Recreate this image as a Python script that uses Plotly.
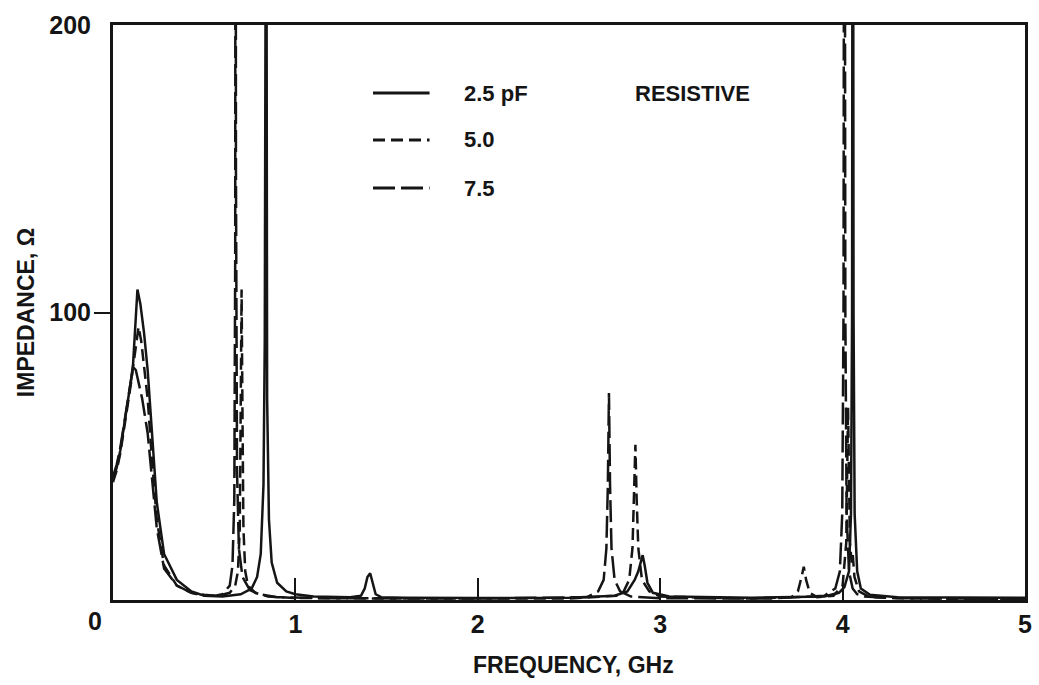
import plotly.graph_objects as go

# ---------------- data ----------------
series_names = ["2.5 pF", "5.0", "7.5"]

freq_2p5 = [0, 0.02, 0.04, 0.06, 0.08, 0.10, 0.11, 0.12, 0.134, 0.15,
            0.17, 0.19, 0.21, 0.24, 0.28, 0.35, 0.43, 0.50, 0.60, 0.70,
            0.76, 0.79, 0.81, 0.825, 0.832, 0.836, 0.838, 0.840, 0.845, 0.855,
            0.87, 0.90, 0.95, 1.00, 1.10, 1.30, 1.36, 1.38, 1.395, 1.41,
            1.425, 1.44, 1.47, 1.60, 2.00, 2.50, 2.75, 2.82, 2.86, 2.88,
            2.895, 2.904, 2.915, 2.93, 2.96, 3.05, 3.50, 3.90, 3.98, 4.01,
            4.035, 4.046, 4.052, 4.056, 4.06, 4.066, 4.08, 4.10, 4.15, 4.30,
            5.00]
imp_2p5 = [42, 46, 52, 60, 69, 77, 82, 92, 108, 103,
           93, 80, 60, 34, 16, 7, 3, 1.5, 1.2, 2,
           4, 8, 16, 40, 90, 200, 400, 200, 70, 28,
           13, 6, 3, 2, 1.2, 1.0, 1.5, 4, 8, 9.3,
           6, 2, 1, 0.8, 0.7, 0.8, 1.5, 3, 7, 10,
           13.5, 15.6, 12, 6, 2.5, 1.2, 0.8, 1.2, 2.5, 4.5,
           10, 30, 100, 400, 100, 30, 10, 4, 1.8, 1,
           0.8]

freq_5p0 = [0, 0.02, 0.04, 0.06, 0.08, 0.10, 0.11, 0.125, 0.14, 0.155,
            0.17, 0.19, 0.21, 0.24, 0.28, 0.35, 0.43, 0.50, 0.58, 0.64,
            0.67, 0.685, 0.695, 0.700, 0.705, 0.710, 0.715, 0.725, 0.74, 0.78,
            0.85, 1.00, 1.50, 2.50, 2.76, 2.80, 2.83, 2.848, 2.857, 2.864,
            2.871, 2.88, 2.90, 2.94, 3.00, 3.50, 3.72, 3.755, 3.775, 3.787,
            3.80, 3.82, 3.86, 3.95, 4.00, 4.02, 4.03, 4.04, 4.05, 4.056,
            4.065, 4.09, 4.15, 4.40, 5.00]
imp_5p0 = [41, 45, 51, 59, 68, 76, 81, 88, 95, 90,
           82, 70, 52, 28, 12, 5, 2.5, 1.5, 1.5, 2.5,
           5, 10, 25, 64, 108, 64, 25, 10, 5, 2.5,
           1.2, 0.7, 0.5, 0.5, 1.5, 3, 7, 18, 35, 54,
           35, 18, 7, 3, 1.2, 0.5, 1, 3, 8, 11.6,
           7, 2.5, 1, 1.5, 5, 20, 67, 20, 13, 15.6,
           8, 3, 1, 0.5, 0.4]

freq_7p5 = [0, 0.02, 0.04, 0.06, 0.08, 0.10, 0.11, 0.125, 0.14, 0.16,
            0.19, 0.21, 0.24, 0.28, 0.35, 0.43, 0.50, 0.56, 0.60, 0.64,
            0.655, 0.665, 0.670, 0.672, 0.674, 0.68, 0.69, 0.71, 0.75, 0.80,
            0.90, 1.20, 2.00, 2.60, 2.66, 2.69, 2.705, 2.713, 2.719, 2.725,
            2.733, 2.75, 2.78, 2.84, 3.00, 3.60, 3.90, 3.96, 3.985, 3.998,
            4.005, 4.010, 4.015, 4.022, 4.035, 4.055, 4.08, 4.12, 4.30, 5.00]
imp_7p5 = [43, 47, 53, 61, 70, 77, 81, 80, 76, 70,
           58, 45, 25, 11, 5, 2.5, 1.8, 1.5, 2, 5,
           12, 35, 120, 400, 150, 45, 18, 8, 3.5, 2,
           1, 0.6, 0.5, 1, 3, 7, 18, 40, 72, 40,
           18, 7, 3, 1.2, 0.6, 0.5, 1.5, 4, 10, 30,
           100, 400, 100, 30, 10, 4, 2, 1.2, 0.6, 0.4]

x_tick_vals = [1, 2, 3, 4, 5]
x_tick_text = ["1", "2", "3", "4", "5"]
y_tick_vals = [100, 200]
y_tick_text = ["100", "200"]

assert len(freq_2p5) == len(imp_2p5)
assert len(freq_5p0) == len(imp_5p0)
assert len(freq_7p5) == len(imp_7p5)

# ---------------- styling ----------------
INK = "#151515"
FONT = "Liberation Sans"
dash_styles = ["solid", "12px,6px", "22px,6px"]
LW = 2.5
TICK_SIZE = 25
TITLE_SIZE = 23
LEG_SIZE = 22

fig = go.Figure()
for name, xs, ys, dash in zip(series_names,
                              [freq_2p5, freq_5p0, freq_7p5],
                              [imp_2p5, imp_5p0, imp_7p5],
                              dash_styles):
    fig.add_trace(go.Scatter(x=xs, y=ys, mode="lines", name=name,
                             line=dict(color=INK, width=LW, dash=dash),
                             showlegend=False))

fig.update_layout(
    width=1039, height=685,
    margin=dict(l=113, r=7, t=25, b=85),
    plot_bgcolor="white", paper_bgcolor="white",
    font=dict(family=FONT, color=INK, size=21, weight="bold"),
    showlegend=False,
)
fig.update_xaxes(
    range=[0, 5], showgrid=False, zeroline=False,
    showline=True, linewidth=3, linecolor=INK, mirror=True,
    ticks="inside", ticklen=22, tickwidth=2, tickcolor=INK,
    tickmode="array", tickvals=x_tick_vals, ticktext=x_tick_text,
    tickfont=dict(family=FONT, size=TICK_SIZE, color=INK, weight="bold"),
)
fig.update_yaxes(
    range=[0, 200], showgrid=False, zeroline=False,
    showline=True, linewidth=3, linecolor=INK, mirror=True,
    ticks="", tickmode="array", tickvals=y_tick_vals, ticktext=y_tick_text,
    ticklabelstandoff=14,
    tickfont=dict(family=FONT, size=TICK_SIZE, color=INK, weight="bold"),
    minor=dict(tickmode="array", tickvals=[100], ticks="outside",
               ticklen=16, tickwidth=2, tickcolor=INK),
)

# lower-left shared "0" label
fig.add_annotation(text="0", xref="paper", yref="paper", x=0, y=0,
                   xanchor="center", yanchor="middle",
                   xshift=-18, yshift=-21, showarrow=False,
                   font=dict(family=FONT, size=TICK_SIZE, color=INK, weight="bold"))

# axis titles
fig.add_annotation(text="FREQUENCY, GHz", xref="paper", yref="paper",
                   x=0.505, y=-0.113, xanchor="center", yanchor="middle",
                   showarrow=False,
                   font=dict(family=FONT, size=TITLE_SIZE, color=INK, weight="bold"))
fig.add_annotation(text="IMPEDANCE, \u03a9", xref="paper", yref="paper",
                   x=-0.0958, y=0.50, xanchor="center", yanchor="middle",
                   textangle=-90, showarrow=False,
                   font=dict(family=FONT, size=TITLE_SIZE, color=INK, weight="bold"))

# legend drawn as in the original figure
leg_rows_y = [0.8817, 0.800, 0.7165]
for name, dash, yy in zip(series_names, dash_styles, leg_rows_y):
    fig.add_shape(type="line", xref="paper", yref="paper",
                  x0=0.2851, x1=0.3471, y0=yy, y1=yy,
                  line=dict(color=INK, width=3, dash=dash))
    fig.add_annotation(text=name, xref="paper", yref="paper",
                       x=0.383, y=yy, xanchor="left", yanchor="middle",
                       showarrow=False,
                       font=dict(family=FONT, size=LEG_SIZE, color=INK, weight="bold"))
fig.add_annotation(text="RESISTIVE", xref="paper", yref="paper",
                   x=0.570, y=leg_rows_y[0], xanchor="left", yanchor="middle",
                   showarrow=False,
                   font=dict(family=FONT, size=LEG_SIZE, color=INK, weight="bold"))

fig.write_html("out.html")
